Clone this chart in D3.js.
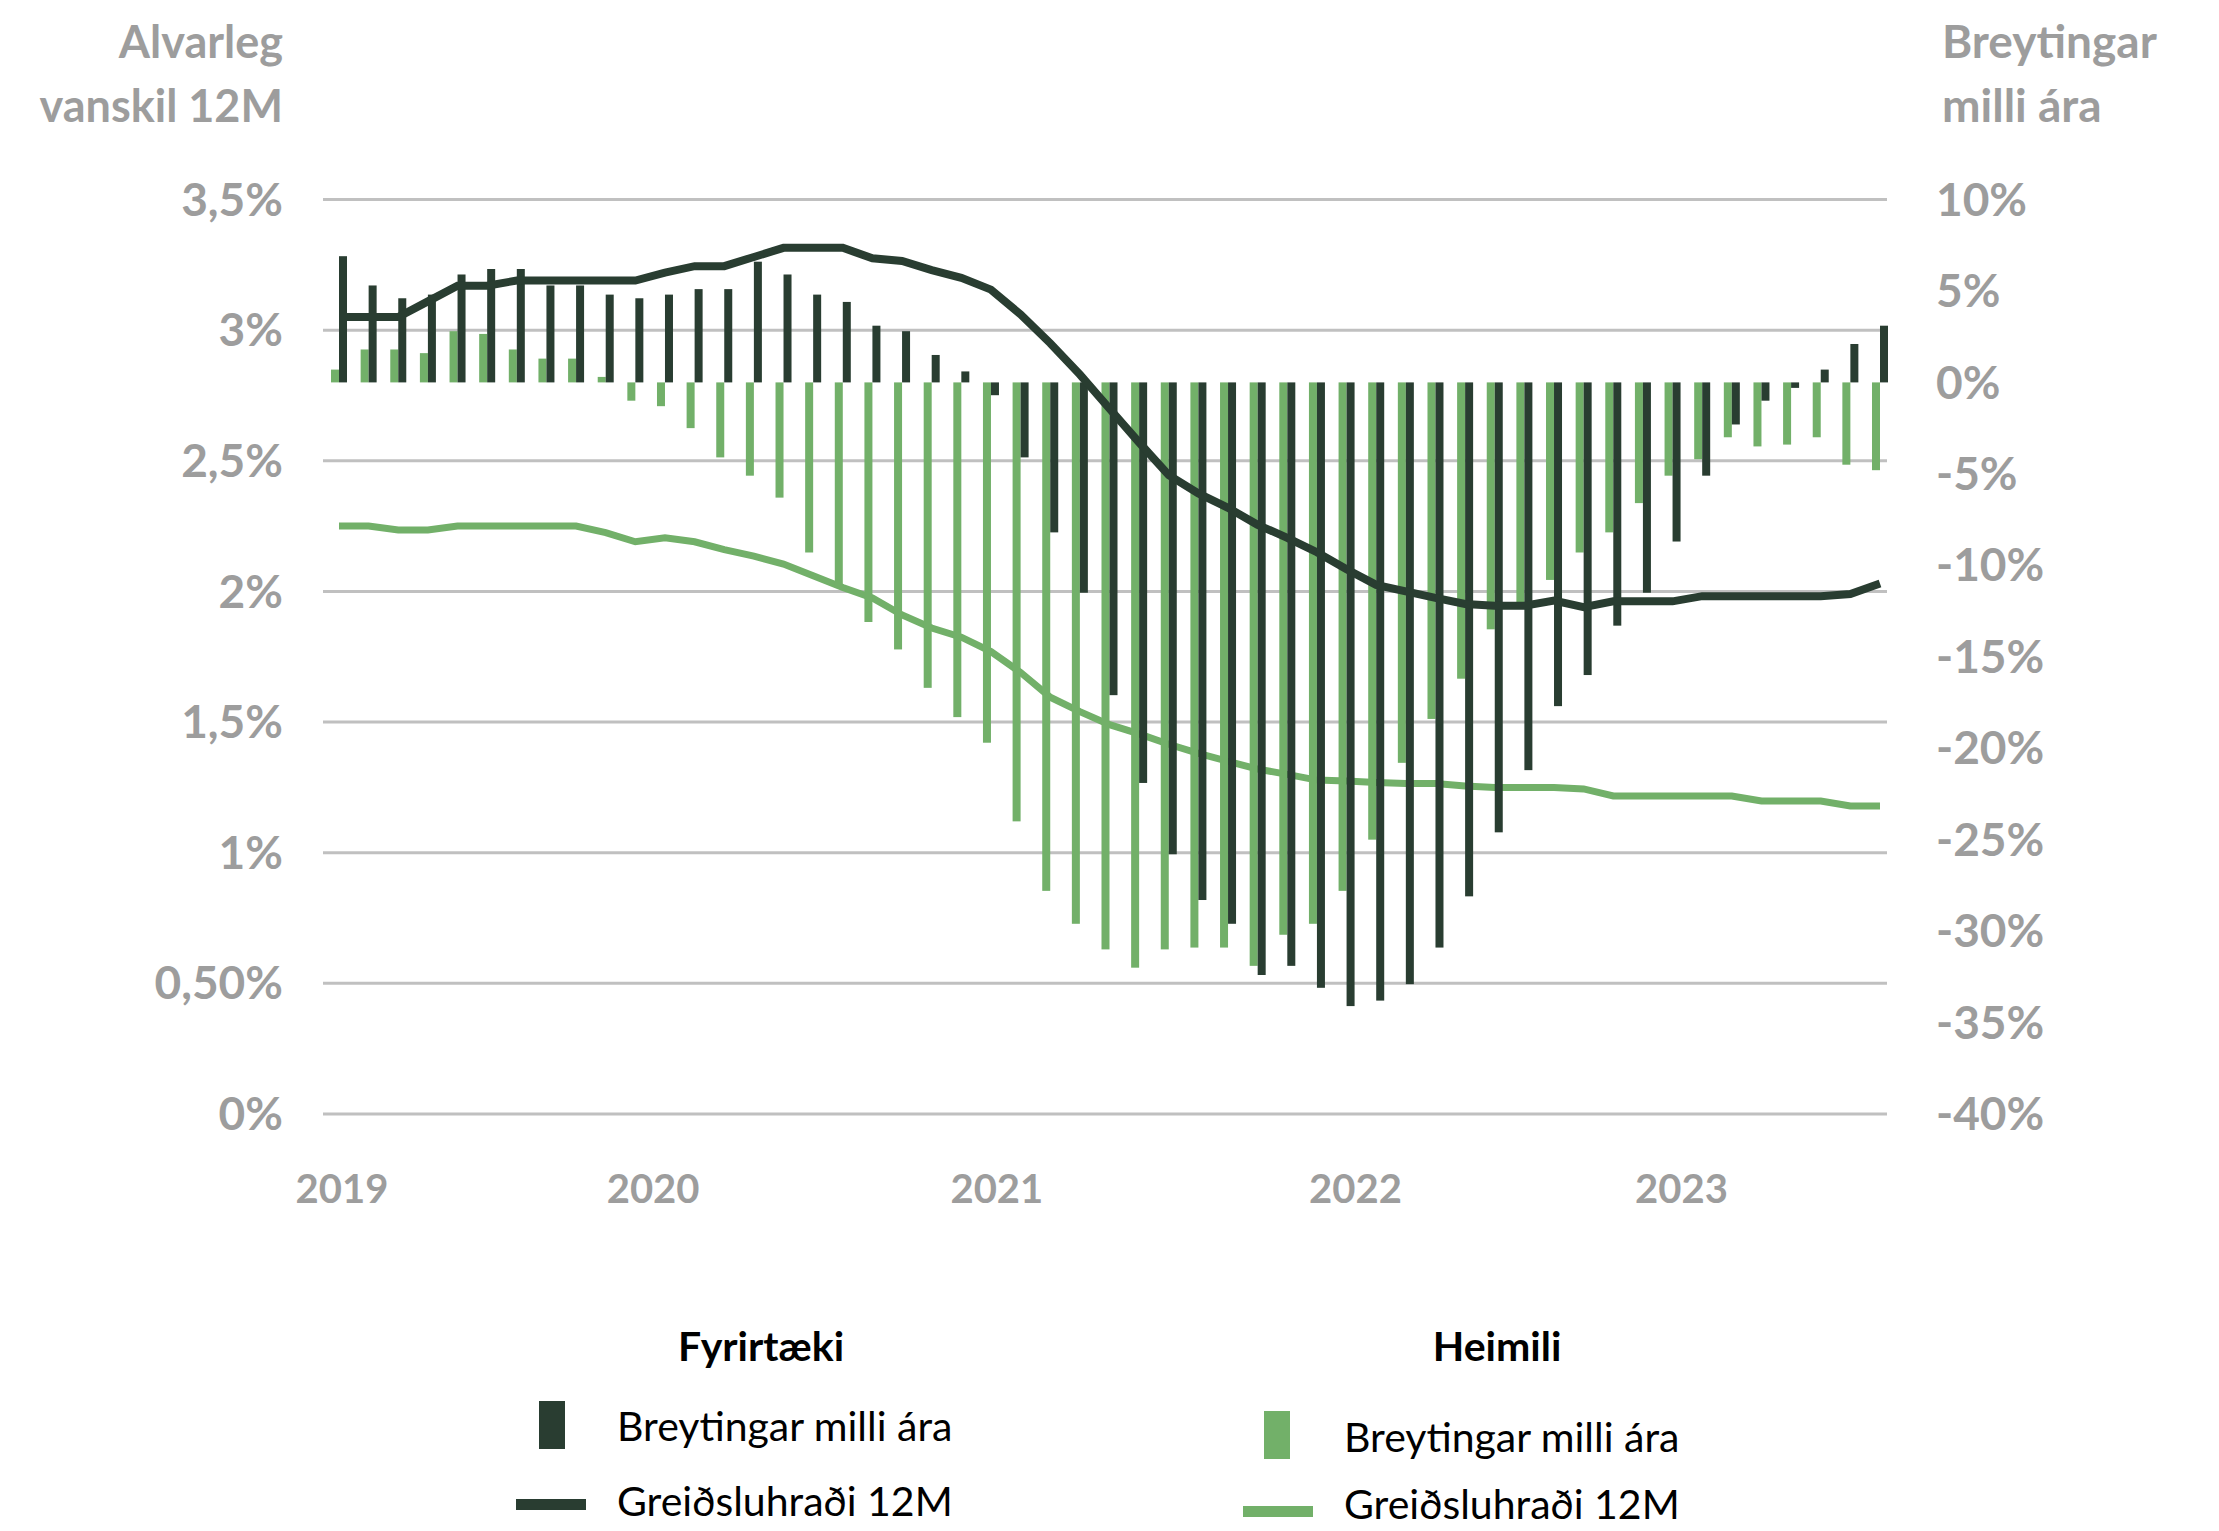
<!DOCTYPE html>
<html>

<head>
    <meta charset="utf-8">
    <title>Greiðsluhraði og vanskil</title>
    <script src="https://d3js.org/d3.v7.min.js"></script>
    <style>
        body { margin: 0; background: #fff; }
        text { font-family: Lato, "Open Sans", sans-serif; }
    </style>
</head>

<body>
    <svg width="2219" height="1531"></svg>
    <script>
        // tick labels
        const leftTicks = [0, 0.5, 1, 1.5, 2, 2.5, 3, 3.5]
        const leftTickLabels = ["0%", "0,50%", "1%", "1,5%", "2%", "2,5%", "3%", "3,5%"]
        const rightTicks = [10, 5, 0, -5, -10, -15, -20, -25, -30, -35, -40]
        const yearLabels = ["2019", "2020", "2021", "2022", "2023"]
        const yearAt = [0.1, 10.6, 22.2, 34.3, 45.3]   // position on the period axis

        // Fyrirtæki - breytingar milli ára (right axis, %)
        const fyrirtaekiChange = [6.9, 5.3, 4.6, 4.8, 5.9, 6.2, 6.2, 5.3, 5.3, 4.8, 4.6,
            4.8, 5.1, 5.1, 6.6, 5.9, 4.8, 4.4, 3.1, 2.8, 1.5,
            0.6, -0.7, -4.1, -8.2, -11.5, -17.1, -21.9, -25.8, -28.3, -29.6, -32.4,
            -31.9, -33.1, -34.1, -33.8, -32.9, -30.9, -28.1, -24.6, -21.2, -17.7,
            -16.0, -13.3, -11.5, -8.7, -5.1, -2.3, -1.0, -0.3, 0.7, 2.1, 3.1]

        // Heimili - breytingar milli ára (right axis, %)
        const heimiliChange = [0.7, 1.8, 1.8, 1.6, 2.8, 2.65, 1.8, 1.3, 1.3, 0.3, -1.0,
            -1.3, -2.5, -4.1, -5.1, -6.3, -9.3, -11.1, -13.1, -14.6, -16.7,
            -18.3, -19.7, -24.0, -27.8, -29.6, -31.0, -32.0, -31.0, -30.9, -30.9, -31.9,
            -30.2, -29.6, -27.8, -25.0, -20.8, -18.4, -16.2, -13.5, -12.2, -10.8,
            -9.3, -8.2, -6.6, -5.1, -4.2, -3.0, -3.5, -3.4, -3.0, -4.5, -4.8]

        // Fyrirtæki - greiðsluhraði 12M (left axis, %)
        const fyrirtaekiRate = [3.05, 3.05, 3.05, 3.11, 3.17, 3.17, 3.19, 3.19, 3.19, 3.19, 3.19,
            3.22, 3.245, 3.245, 3.28, 3.315, 3.315, 3.315, 3.275, 3.265, 3.23,
            3.20, 3.155, 3.06, 2.95, 2.83, 2.70, 2.57, 2.445, 2.375, 2.32, 2.255,
            2.205, 2.15, 2.085, 2.025, 2.0, 1.975, 1.952, 1.945, 1.945, 1.965,
            1.94, 1.962, 1.962, 1.962, 1.982, 1.982, 1.982, 1.982, 1.982, 1.99, 2.03]

        // Heimili - greiðsluhraði 12M (left axis, %)
        const heimiliRate = [2.25, 2.25, 2.235, 2.235, 2.25, 2.25, 2.25, 2.25, 2.25, 2.225, 2.19,
            2.205, 2.19, 2.16, 2.135, 2.105, 2.06, 2.015, 1.975, 1.91, 1.86,
            1.825, 1.77, 1.69, 1.595, 1.54, 1.49, 1.455, 1.415, 1.38, 1.35, 1.32,
            1.30, 1.278, 1.274, 1.269, 1.265, 1.265, 1.255, 1.25, 1.25, 1.25,
            1.244, 1.217, 1.217, 1.217, 1.217, 1.217, 1.198, 1.198, 1.198, 1.179, 1.179]

        const periods = d3.range(fyrirtaekiChange.length)

        const dark = "#293d31"
        const light = "#72b069"
        const grey = "#9d9d9d"
        const gridColor = "#c0c0c0"

        const svg = d3.select("svg")
        svg.append("rect").attr("width", 2219).attr("height", 1531).attr("fill", "#fff")

        const plot = { left: 323, right: 1887, top: 199.5, bottom: 1114 }

        const yLeft = d3.scaleLinear().domain([0, 3.5]).range([plot.bottom, plot.top])
        const yRight = d3.scaleLinear().domain([-40, 10]).range([plot.bottom, plot.top])

        const x = d3.scaleBand()
            .domain(periods)
            .range([331, 1888])
            .paddingInner(0.46)
            .paddingOuter(0)
        const xSeries = d3.scaleBand()
            .domain(["heimili", "fyrirtaeki"])
            .range([0, x.bandwidth()])
        const xMid = i => x(i) + x.bandwidth() / 2
        const xYear = d3.scaleLinear()
            .domain([0, periods.length - 1])
            .range([xMid(0), xMid(periods.length - 1)])

        // gridlines
        svg.append("g")
            .selectAll("line")
            .data(leftTicks)
            .join("line")
            .attr("x1", plot.left)
            .attr("x2", plot.right)
            .attr("y1", d => yLeft(d))
            .attr("y2", d => yLeft(d))
            .attr("stroke", gridColor)
            .attr("stroke-width", 3)

        // left axis labels
        svg.append("g")
            .selectAll("text")
            .data(leftTicks)
            .join("text")
            .attr("x", 283)
            .attr("y", d => yLeft(d))
            .attr("dy", "0.35em")
            .attr("text-anchor", "end")
            .attr("font-size", 46)
            .attr("font-weight", 700)
            .attr("fill", grey)
            .text((d, i) => leftTickLabels[i])

        // right axis labels
        svg.append("g")
            .selectAll("text")
            .data(rightTicks)
            .join("text")
            .attr("x", 1936)
            .attr("y", d => yRight(d))
            .attr("dy", "0.35em")
            .attr("font-size", 46)
            .attr("font-weight", 700)
            .attr("fill", grey)
            .text(d => d + "%")

        // axis titles
        const titleL = svg.append("text")
            .attr("text-anchor", "end")
            .attr("font-size", 45)
            .attr("font-weight", 700)
            .attr("fill", grey)
        titleL.append("tspan").attr("x", 283).attr("y", 58).text("Alvarleg")
        titleL.append("tspan").attr("x", 283).attr("y", 122).text("vanskil 12M")

        const titleR = svg.append("text")
            .attr("font-size", 46)
            .attr("font-weight", 700)
            .attr("fill", grey)
        titleR.append("tspan").attr("x", 1942).attr("y", 58).text("Breytingar")
        titleR.append("tspan").attr("x", 1942).attr("y", 122).text("milli ára")

        // year labels
        svg.append("g")
            .selectAll("text")
            .data(yearLabels)
            .join("text")
            .attr("x", (d, i) => xYear(yearAt[i]))
            .attr("y", 1189)
            .attr("dy", "0.35em")
            .attr("text-anchor", "middle")
            .attr("font-size", 40)
            .attr("font-weight", 700)
            .attr("fill", grey)
            .text(d => d)

        const line = d3.line()
            .x((d, i) => xMid(i))

        // household line sits under the bars
        svg.append("path")
            .datum(heimiliRate)
            .attr("d", line.y(d => yLeft(d)))
            .attr("fill", "none")
            .attr("stroke", light)
            .attr("stroke-width", 7)

        const bars = svg.append("g")
        bars.selectAll(".heim")
            .data(heimiliChange)
            .join("rect")
            .attr("class", "heim")
            .attr("x", (d, i) => x(i) + xSeries("heimili"))
            .attr("width", xSeries.bandwidth())
            .attr("y", d => yRight(Math.max(0, d)))
            .attr("height", d => Math.abs(yRight(d) - yRight(0)))
            .attr("fill", light)
        bars.selectAll(".fyr")
            .data(fyrirtaekiChange)
            .join("rect")
            .attr("class", "fyr")
            .attr("x", (d, i) => x(i) + xSeries("fyrirtaeki"))
            .attr("width", xSeries.bandwidth())
            .attr("y", d => yRight(Math.max(0, d)))
            .attr("height", d => Math.abs(yRight(d) - yRight(0)))
            .attr("fill", dark)

        svg.append("path")
            .datum(fyrirtaekiRate)
            .attr("d", d3.line().x((d, i) => xMid(i)).y(d => yLeft(d)))
            .attr("fill", "none")
            .attr("stroke", dark)
            .attr("stroke-width", 8)

        // legend
        const legend = svg.append("g")
        const groups = [
            { title: "Fyrirtæki", color: dark, cx: 761, rectX: 539, lineX: 516, textX: 617, barY: 1401, barText: 1427, lineY: 1504, lineText: 1502 },
            { title: "Heimili", color: light, cx: 1497, rectX: 1264, lineX: 1243, textX: 1344, barY: 1411, barText: 1438, lineY: 1511, lineText: 1505 }
        ]
        groups.forEach(g => {
            legend.append("text")
                .attr("x", g.cx).attr("y", 1347).attr("dy", "0.35em")
                .attr("text-anchor", "middle")
                .attr("font-size", 41).attr("font-weight", 700).attr("fill", "#000")
                .text(g.title)
            legend.append("rect")
                .attr("x", g.rectX).attr("y", g.barY)
                .attr("width", 26).attr("height", 48)
                .attr("fill", g.color)
            legend.append("text")
                .attr("x", g.textX).attr("y", g.barText).attr("dy", "0.35em")
                .attr("font-size", 41).attr("fill", "#000")
                .text("Breytingar milli ára")
            legend.append("rect")
                .attr("x", g.lineX).attr("y", g.lineY - 5)
                .attr("width", 70).attr("height", 11)
                .attr("fill", g.color)
            legend.append("text")
                .attr("x", g.textX).attr("y", g.lineText).attr("dy", "0.35em")
                .attr("font-size", 41).attr("fill", "#000")
                .text("Greiðsluhraði 12M")
        })
    </script>
</body>

</html>
